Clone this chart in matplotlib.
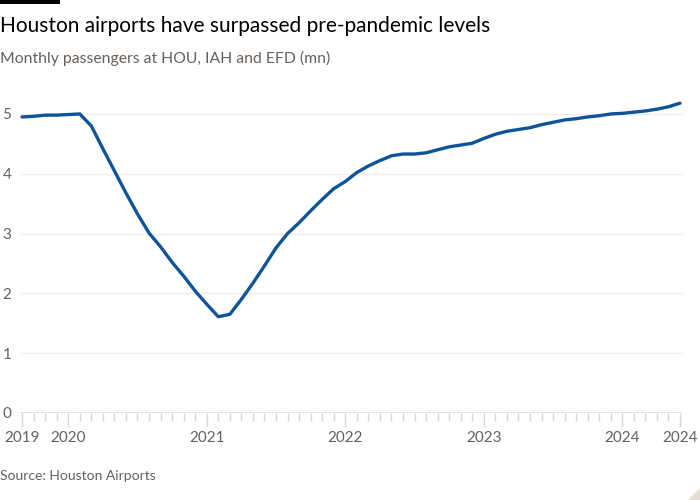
import numpy as np
import matplotlib
matplotlib.use("Agg")
import matplotlib.pyplot as plt
from matplotlib.patches import Polygon, Rectangle

# ---- data: monthly passengers (mn), Sep 2019 .. Jun 2024
months = np.arange(58)
passengers = [
    4.95, 4.96, 4.98, 4.98, 4.99, 5.00, 4.80, 4.42, 4.05, 3.68,
    3.33, 3.01, 2.78, 2.52, 2.29, 2.04, 1.82, 1.61, 1.65, 1.90,
    2.17, 2.46, 2.76, 3.00, 3.18, 3.38, 3.57, 3.75, 3.87, 4.02,
    4.13, 4.22, 4.30, 4.33, 4.33, 4.35, 4.40, 4.45, 4.48, 4.51,
    4.59, 4.66, 4.71, 4.74, 4.77, 4.82, 4.86, 4.90, 4.92, 4.95,
    4.97, 5.00, 5.01, 5.03, 5.05, 5.08, 5.12, 5.18,
]
tick_pos = [0, 4, 16, 28, 40, 52, 57]
tick_labels = ['2019', '2020', '2021', '2022', '2023', '2024', '2024']
y_ticks = [0, 1, 2, 3, 4, 5]

title = "Houston airports have surpassed pre-pandemic levels"
subtitle = "Monthly passengers at HOU, IAH and EFD (mn)"
source = "Source: Houston Airports"

plt.rcParams['font.family'] = ['Lato', 'DejaVu Sans']
grey = '#66605c'
grid_c = '#f2ede8'
base_c = '#e3ddd8'
tick_c = '#dcd6d1'
blue = '#0f5499'

fig = plt.figure(figsize=(7, 5), dpi=100, facecolor='white')
ax = fig.add_axes([19.7/700, 87/500, 663.8/700, 317/500])
ax.set_facecolor('white')

ax.plot(months, passengers, color=blue, lw=2.4, solid_capstyle='round', zorder=3)

ax.set_xlim(-0.2, 57.3)
ax.set_ylim(0, 5.3)

for s in ax.spines.values():
    s.set_visible(False)
ax.axhline(0, color=base_c, lw=1.2, zorder=2)
for y in y_ticks[1:]:
    ax.axhline(y, color=grid_c, lw=1, zorder=1)

ax.set_yticks(y_ticks)
ax.tick_params(axis='y', length=0, pad=6, labelsize=11, labelcolor=grey)

ax.set_xticks(tick_pos)
ax.set_xticklabels(tick_labels)
ax.set_xticks(months, minor=True)
ax.tick_params(axis='x', which='major', length=10, width=1, color=tick_c,
               pad=3, labelsize=11, labelcolor=grey)
ax.tick_params(axis='x', which='minor', length=6, width=1, color=tick_c)

fig.text(0, 0.937, title, fontsize=15, color='black', va='baseline')
fig.text(0, 0.875, subtitle, fontsize=11.3, color=grey, va='baseline')
fig.text(0, 0.04, source, fontsize=10, color=grey, va='baseline')

fig.patches.append(Rectangle((0, 496/500), 60/700, 4/500, transform=fig.transFigure,
                             color='black', lw=0))
fig.patches.append(Polygon([(1, 0), (1, 12/500), (1 - 12/700, 0)], closed=True,
                           transform=fig.transFigure, color='#e6dcd2', lw=0))

fig.savefig('out.png', dpi=100, facecolor='white')
